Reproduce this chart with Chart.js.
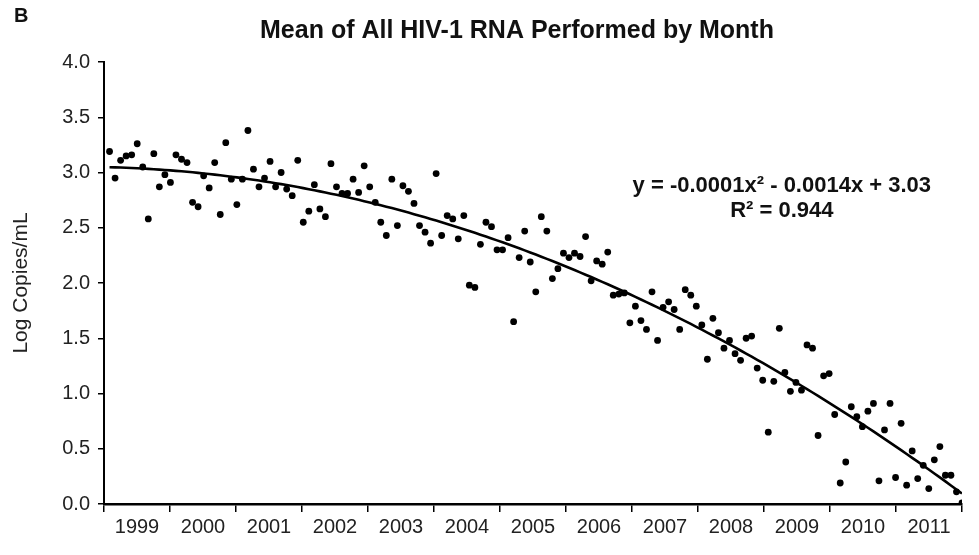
<!DOCTYPE html>
<html><head><meta charset="utf-8">
<script src="https://cdn.jsdelivr.net/npm/chart.js@4.4.1/dist/chart.umd.min.js"></script>
<style>html,body{margin:0;padding:0;background:#fff;overflow:hidden}#wrap{width:979px;height:555px}</style>
</head><body><div id="wrap"><canvas id="c" width="979" height="555"></canvas></div>
<script>
// ---- data ----
const panelLetter = 'B';
const chartTitle = 'Mean of All HIV-1 RNA Performed by Month';
const yAxisTitle = 'Log Copies/mL';
const yearLabels = ['1999','2000','2001','2002','2003','2004','2005','2006','2007','2008','2009','2010','2011'];
const yTickValues = [0, 0.5, 1.0, 1.5, 2.0, 2.5, 3.0, 3.5, 4.0];
const equationText = 'y = -0.0001x\u00B2 - 0.0014x + 3.03';
const r2Text = 'R\u00B2 = 0.944';
// monthly mean log copies/mL, month 1..155
const meanLogCopies = [
  3.19,2.95,3.11,3.15,3.16,3.26,3.05,2.58,3.17,2.87,2.98,2.91,3.16,3.12,3.09,2.73,2.69,2.97,2.86,3.09,2.62,3.27,2.94,2.71,2.94,3.38,
  3.03,2.87,2.95,3.10,2.87,3.00,2.85,2.79,3.11,2.55,2.65,2.89,2.67,2.60,3.08,2.87,2.81,2.81,2.94,2.82,3.06,2.87,2.73,2.55,2.43,2.94,
  2.52,2.88,2.83,2.72,2.52,2.46,2.36,2.99,2.43,2.61,2.58,2.40,2.61,1.98,1.96,2.35,2.55,2.51,2.30,2.30,2.41,1.65,2.23,2.47,2.19,1.92,2.60,
  2.47,2.04,2.13,2.27,2.23,2.27,2.24,2.42,2.02,2.20,2.17,2.28,1.89,1.90,1.91,1.64,1.79,1.66,1.58,1.92,1.48,1.78,1.83,1.76,1.58,1.94,
  1.89,1.79,1.62,1.31,1.68,1.55,1.41,1.48,1.36,1.30,1.50,1.52,1.23,1.12,0.65,1.11,1.59,1.19,1.02,1.10,1.03,1.44,1.41,0.62,1.16,1.18,
  0.81,0.19,0.38,0.88,0.79,0.70,0.84,0.91,0.21,0.67,0.91,0.24,0.73,0.17,0.48,0.23,0.35,0.14,0.40,0.52,0.26,0.26,0.11,0.01
];

// ---- polynomial (order 2) trend fitted to the data, as in the source ----
function quadFit(xs, ys){
  const S=[0,0,0,0,0], T=[0,0,0];
  for(let i=0;i<xs.length;i++){let p=1;for(let k=0;k<5;k++){S[k]+=p;if(k<3)T[k]+=p*ys[i];p*=xs[i];}}
  const M=[[S[4],S[3],S[2],T[2]],[S[3],S[2],S[1],T[1]],[S[2],S[1],S[0],T[0]]];
  for(let i=0;i<3;i++)for(let j=i+1;j<3;j++){const f=M[j][i]/M[i][i];for(let k=i;k<4;k++)M[j][k]-=f*M[i][k];}
  const r=[0,0,0];
  for(let i=2;i>=0;i--){let s=M[i][3];for(let k=i+1;k<3;k++)s-=M[i][k]*r[k];r[i]=s/M[i][i];}
  return r;
}
const months = meanLogCopies.map((v,i)=>i+1);
const coef = quadFit(months, meanLogCopies);
const trendPts = months.map(m=>({x:m, y:coef[0]*m*m+coef[1]*m+coef[2]}));

const FONT = '"Liberation Sans", Arial, Helvetica, sans-serif';
const decor = {
  id:'decor',
  afterDraw(chart){
    const ctx = chart.ctx, ca = chart.chartArea;
    ctx.save();
    ctx.fillStyle = '#111';
    ctx.textBaseline = 'middle';
    ctx.textAlign = 'left';
    ctx.font = 'bold 20px ' + FONT;
    ctx.fillText(panelLetter, 14, 16);
    ctx.textAlign = 'center';
    ctx.font = 'bold 25px ' + FONT;
    ctx.fillText(chartTitle, 517, 31);
    ctx.font = 'bold 22px ' + FONT;
    const ex = ca.left + (ca.right - ca.left) * 0.79;
    ctx.fillText(equationText, ex, 186);
    ctx.fillText(r2Text, ex, 211);
    ctx.restore();
  }
};

new Chart(document.getElementById('c'), {
  data: {
    datasets: [
      { type:'scatter', data: meanLogCopies.map((v,i)=>({x:months[i], y:v})),
        backgroundColor:'#000', borderWidth:0, pointRadius:3.4, pointHoverRadius:3.4, order:1 },
      { type:'line', data: trendPts, borderColor:'#000', borderWidth:2.6, pointRadius:0, tension:0, fill:false, order:2 }
    ]
  },
  options: {
    responsive:false, animation:false, devicePixelRatio:1,
    layout:{ padding:{ top:62, right:17, left:0, bottom:0 } },
    plugins:{ legend:{display:false}, tooltip:{enabled:false}, title:{display:false} },
    scales:{
      x:{ type:'linear', min:0, max:155, display:false },
      xYear:{ type:'category', labels: yearLabels, position:'bottom', offset:true,
        grid:{ offset:true, drawOnChartArea:false, tickLength:8, color:'#000', lineWidth:1.5 },
        border:{ color:'#000', width:2.5 },
        ticks:{ color:'#222', font:{ family:FONT, size:20 }, padding:3, maxRotation:0, autoSkip:false },
        afterFit(s){ s.height = 51; } },
      y:{ min:0, max:4,
        afterBuildTicks(s){ s.ticks = yTickValues.map(v=>({value:v})); },
        ticks:{ color:'#222', font:{ family:FONT, size:20 }, padding:8, callback:v=>Number(v).toFixed(1) },
        grid:{ drawOnChartArea:false, tickLength:6, color:'#000', lineWidth:1.5 },
        border:{ color:'#000', width:2 },
        title:{ display:true, text:yAxisTitle, color:'#222', font:{ family:FONT, size:21 }, padding:{ top:9, bottom:0 } },
        afterFit(s){ s.width = 104; } }
    }
  },
  plugins:[decor]
});
</script></body></html>
